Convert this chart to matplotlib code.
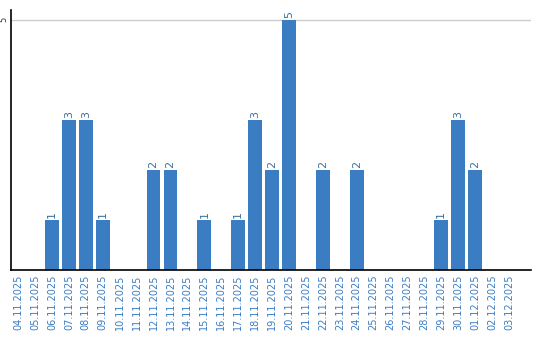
import matplotlib
matplotlib.use("Agg")
import matplotlib.pyplot as plt
import numpy as np

dates = ['04.11.2025', '05.11.2025', '06.11.2025', '07.11.2025', '08.11.2025',
         '09.11.2025', '10.11.2025', '11.11.2025', '12.11.2025', '13.11.2025',
         '14.11.2025', '15.11.2025', '16.11.2025', '17.11.2025', '18.11.2025',
         '19.11.2025', '20.11.2025', '21.11.2025', '22.11.2025', '23.11.2025',
         '24.11.2025', '25.11.2025', '26.11.2025', '27.11.2025', '28.11.2025',
         '29.11.2025', '30.11.2025', '01.12.2025', '02.12.2025', '03.12.2025']
counts = [0, 0, 1, 3, 3, 1, 0, 0, 2, 2,
          0, 1, 0, 1, 3, 2, 5, 0, 2, 0,
          2, 0, 0, 0, 0, 1, 3, 2, 0, 0]

bar_color = '#3a7dc3'
text_color = '#3a7dc3'

fig = plt.figure(figsize=(5.4, 3.4), dpi=100)
ax = fig.add_axes([0.0204, 0.206, 0.963, 0.765])

x = np.arange(len(dates))
ax.bar(x, counts, width=0.82, color=bar_color, zorder=2)

# value labels above the non-empty bars
for xi, c in zip(x, counts):
    if c > 0:
        ax.text(xi, c + 0.04, str(c), rotation=90, ha='center', va='bottom',
                fontsize=8, color='#3d6f9e')

ax.set_xlim(-0.42, 30.3)
ax.set_ylim(0, 5.2)
ax.set_xticks(x)
ax.set_xticklabels(dates, rotation=90, fontsize=7, color=text_color)
ax.set_yticks([5])
ax.set_yticklabels(['5'], rotation=90, fontsize=6, ha='center', va='center',
                   color='#333333')
ax.tick_params(axis='y', length=0, pad=5)
ax.tick_params(axis='x', length=0, pad=3)
ax.yaxis.grid(True, color='#cccccc', linewidth=1, zorder=0)

for s in ['top', 'right']:
    ax.spines[s].set_visible(False)
ax.spines['left'].set_color('black')
ax.spines['bottom'].set_color('black')
ax.spines['left'].set_linewidth(1.2)
ax.spines['bottom'].set_linewidth(1.2)

fig.savefig('out.png', dpi=100)
